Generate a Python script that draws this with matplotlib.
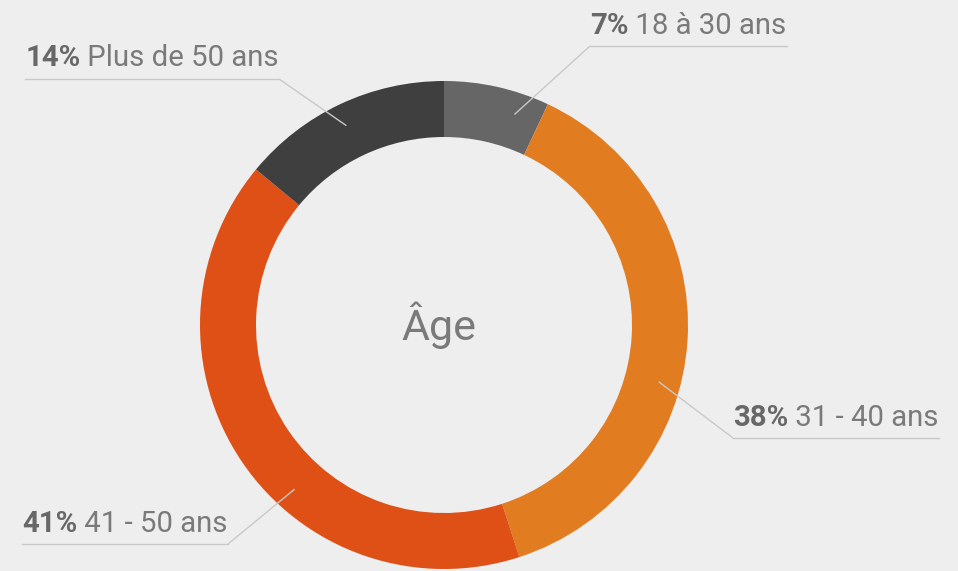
import numpy as np
import matplotlib.pyplot as plt

# data
categories = ["18 à 30 ans", "31 - 40 ans", "41 - 50 ans", "Plus de 50 ans"]
shares = [7, 38, 41, 14]
colors = ["#666666", "#e27c20", "#de5016", "#3f3f3f"]
center_title = "Âge"

# layout (pixel space, y up)
W, H = 958, 571
cx, cy = 444, 246
r_out, ring = 244, 56
label_angles = [71.5, -14.8, 227.7, 116.1]   # where each leader touches the ring
elbows = [(590, 525), (733, 133), (228, 27), (279, 492)]
sides = ["right", "right", "left", "left"]
font = "Roboto"
fs = 21.2
line_col = "#c9c9c9"

fig = plt.figure(figsize=(W / 100, H / 100), dpi=100, facecolor="#eeeeee")
ax = fig.add_axes([0, 0, 1, 1])
ax.set_facecolor("#eeeeee")

ax.pie(shares, colors=colors, startangle=90, counterclock=False,
       center=(cx, cy), radius=r_out, frame=True,
       wedgeprops=dict(width=ring, linewidth=0))
ax.set_xlim(0, W)
ax.set_ylim(0, H)
ax.set_aspect("equal")
ax.axis("off")

ax.text(438.5, 231, center_title, ha="center", va="baseline", fontsize=31,
        color="#7a7a7a", family=font)

fig.canvas.draw()
renderer = fig.canvas.get_renderer()

r_lead = 222
for share, cat, ang, (ex, ey), side in zip(shares, categories, label_angles, elbows, sides):
    a = np.deg2rad(ang)
    sx, sy = cx + r_lead * np.cos(a), cy + r_lead * np.sin(a)
    ty = ey + 12.5
    t1 = ax.text(0, ty, f"{share}%", fontsize=fs, fontweight="bold",
                 color="#686868", family=font, ha="left", va="baseline")
    w1 = t1.get_window_extent(renderer).width
    t2 = ax.text(0, ty, " " + cat, fontsize=fs, color="#7a7a7a",
                 family=font, ha="left", va="baseline")
    w2 = t2.get_window_extent(renderer).width
    total = w1 + w2
    x0 = ex if side == "right" else ex - total
    t1.set_x(x0)
    t2.set_x(x0 + w1)
    ax.plot([sx, ex], [sy, ey], color=line_col, lw=1.0, solid_capstyle="butt", zorder=5)
    ax.plot([x0, x0 + total], [ey, ey], color=line_col, lw=1.0, zorder=5)

fig.savefig("out.png", dpi=100, facecolor=fig.get_facecolor())
